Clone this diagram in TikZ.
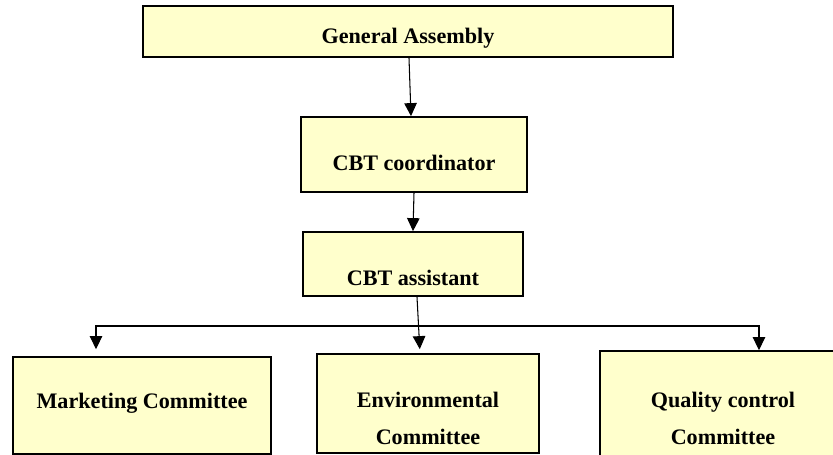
\documentclass[tikz,border=0pt]{standalone}
\usepackage{fontspec}
\setmainfont{Liberation Serif}
\usetikzlibrary{arrows.meta}
\definecolor{boxyellow}{HTML}{FFFFCC}
\begin{document}
\begin{tikzpicture}[x=0.02cm,y=-0.02cm,line cap=butt,line join=miter,>={Triangle[length=0.26cm,width=0.25cm]},font=\fontsize{12.6}{21}\selectfont\bfseries]
		\tikzset{unit/.style={draw,line width=1pt,fill=boxyellow,inner sep=0pt},
				unittext/.style={align=center,inner sep=0pt},
				link/.style={->,line width=0.6pt}
		}
		\useasboundingbox (0,0) rectangle (833,455);
		\clip (0,0) rectangle (833,455);
		\node[unit,minimum width=10.6cm,minimum height=1.02cm,label={[unittext,yshift=-0.13cm]center:General Assembly}] (assembly) at (408,31.5) {};
		\node[unit,minimum width=4.52cm,minimum height=1.5cm,label={[unittext,yshift=-0.17cm]center:CBT coordinator}] (coordinator) at (414,154.5) {};
		\node[unit,minimum width=4.4cm,minimum height=1.28cm,label={[unittext,yshift=-0.28cm]center:CBT assistant}] (assistant) at (413,264) {};
		\node[unit,minimum width=5.16cm,minimum height=1.94cm,label={[unittext,yshift=0.05cm]center:Marketing Committee}] (marketing) at (142,405.5) {};
		\node[unit,minimum width=4.44cm,minimum height=1.98cm,label={[unittext,yshift=-0.3cm]center:Environmental\\Committee}] (environment) at (428,403.5) {};
		\node[unit,minimum width=4.92cm,minimum height=2.28cm,label={[unittext,yshift=-0.21cm]center:Quality control\\Committee}] (quality) at (723,408) {};
		\coordinate (split) at (418,326);
		\draw[link] ([xshift=0.02cm]assembly.south) -- ([xshift=-0.06cm]coordinator.north);
		\draw[link] (coordinator.south) -- (assistant.north);
		\draw[link,shorten >=0.08cm] ([xshift=0.08cm]assistant.south) -- ([xshift=-0.16cm]environment.north);
		\draw[link,shorten >=0.14cm] (split) -| ([xshift=-0.92cm]marketing.north);
		\draw[link] (split) -| ([xshift=0.72cm]quality.north);
	\end{tikzpicture}
\end{document}
